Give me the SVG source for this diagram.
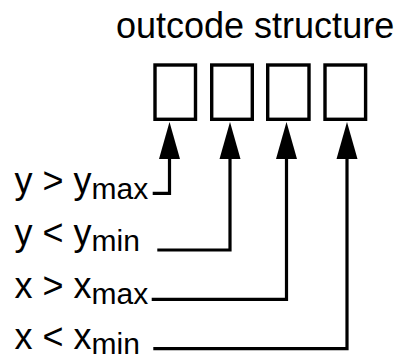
<svg xmlns="http://www.w3.org/2000/svg" width="408" height="360" viewBox="0 0 408 360">
  <style>
    .title { font-family: "Liberation Sans", Arial, sans-serif; font-size: 36px; fill: #000; }
    .label { font-family: "Liberation Sans", Arial, sans-serif; font-size: 36px; fill: #000; }
    .sub { font-size: 30px; }
    .bit { fill: #fff; stroke: #000; stroke-width: 3.4; }
    .wire { fill: none; stroke: #000; stroke-width: 3.2; stroke-linejoin: miter; }
  </style>
  <defs>
    <marker id="head" markerUnits="userSpaceOnUse" markerWidth="37" markerHeight="22" refX="0" refY="11" orient="auto" viewBox="0 0 37 22">
      <path d="M0,0.5 L37,11 L0,21.5 z" fill="#000"/>
    </marker>
  </defs>

  <text class="title" x="116" y="38">outcode structure</text>

  <!-- outcode bit cells -->
  <g id="bit1"><rect class="bit" x="155" y="65" width="40.5" height="54.3"/></g>
  <g id="bit2"><rect class="bit" x="211.7" y="65" width="40.6" height="54.3"/></g>
  <g id="bit3"><rect class="bit" x="267.7" y="65" width="41.3" height="54.3"/></g>
  <g id="bit4"><rect class="bit" x="325" y="65" width="40.6" height="54.3"/></g>

  <!-- condition labels -->
  <g id="cond-ymax"><text class="label" x="14.5" y="193">y &gt; y<tspan class="sub" dy="6">max</tspan></text></g>
  <g id="cond-ymin"><text class="label" x="14.5" y="245">y &lt; y<tspan class="sub" dy="6">min</tspan></text></g>
  <g id="cond-xmax"><text class="label" x="14.5" y="298">x &gt; x<tspan class="sub" dy="6">max</tspan></text></g>
  <g id="cond-xmin"><text class="label" x="14.5" y="349">x &lt; x<tspan class="sub" dy="5">min</tspan></text></g>

  <!-- connectors from conditions to bits -->
  <g id="connectors">
    <path class="wire" d="M152.7,193.3 H169.5 V159" marker-end="url(#head)"/>
    <path class="wire" d="M157.3,250 H230 V159" marker-end="url(#head)"/>
    <path class="wire" d="M151.7,299.3 H286.5 V159" marker-end="url(#head)"/>
    <path class="wire" d="M153.3,348.7 H347 V159" marker-end="url(#head)"/>
  </g>
</svg>
